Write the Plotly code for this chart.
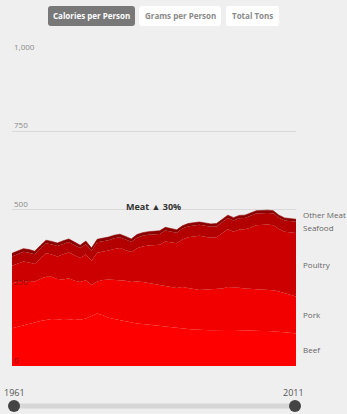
import plotly.graph_objects as go

years = list(range(1961, 2012))

beef = [121, 125, 130, 135, 139, 144, 148, 150, 149, 147,
        148, 150, 148, 152, 160, 168, 162, 154, 150, 146,
        143, 138, 136, 134, 132, 130, 128, 125, 122, 120,
        119, 118, 117, 115, 115, 114, 115, 116, 115, 115,
        114, 114, 113, 113, 112, 112, 111, 110, 108, 106, 104]
pork = [143, 143, 142, 133, 131, 134, 137, 135, 129, 129,
        132, 122, 120, 122, 99, 102, 113, 122, 125, 128,
        129, 130, 134, 134, 133, 132, 130, 130, 130, 129,
        133, 132, 129, 128, 129, 132, 131, 132, 137, 137,
        136, 134, 134, 133, 132, 131, 131, 128, 126, 122, 118]
poultry = [56, 60, 62, 63, 56, 65, 75, 71, 72, 81,
           83, 82, 77, 82, 77, 92, 90, 93, 99, 103,
           98, 96, 106, 114, 120, 123, 129, 143, 143, 143,
           152, 161, 168, 173, 169, 164, 165, 177, 185, 177,
           186, 189, 195, 204, 207, 209, 208, 200, 195, 199, 203]
seafood = [30, 30, 31, 31, 31, 32, 32, 32, 33, 33,
           33, 32, 32, 33, 32, 33, 33, 33, 34, 34,
           34, 33, 34, 34, 34, 35, 35, 35, 35, 34,
           35, 35, 35, 35, 35, 35, 35, 36, 36, 36,
           36, 36, 37, 37, 37, 37, 37, 36, 36, 36, 36]
other_meat = [10, 10, 10, 10, 10, 10, 10, 10, 10, 10,
              10, 10, 9, 10, 9, 10, 10, 10, 10, 10,
              10, 9, 10, 10, 10, 10, 10, 10, 10, 9,
              9, 9, 9, 9, 9, 9, 9, 9, 9, 9,
              9, 9, 9, 9, 9, 9, 9, 8, 8, 8, 8]

series_names = ["Beef", "Pork", "Poultry", "Seafood", "Other Meat"]
series_vals = [beef, pork, poultry, seafood, other_meat]
series_colors = ["#ff0000", "#f20000", "#cc0000", "#b30000", "#8c0000"]

y_ticks = [0, 250, 500, 750, 1000]
y_tick_text = ["0", "250", "500", "750", "1,000"]
buttons = ["Calories per Person", "Grams per Person", "Total Tons"]
change_label = "Meat \u25B2 30%"

W, H = 347, 414
L, R, T, B = 12, 296, 53, 366

def px(x):
    return (x - L) / (R - L)

def py(y):
    return (B - y) / (B - T)

fig = go.Figure()
for name, vals, col in zip(series_names, series_vals, series_colors):
    fig.add_trace(go.Scatter(
        x=years, y=vals, name=name, stackgroup="one", mode="lines",
        line=dict(width=0.6 if name == "Other Meat" else 0, color=col),
        fillcolor=col, hoverinfo="skip"))

first_total = sum(v[0] for v in series_vals)
annotations = []
for v, t in zip(y_ticks, y_tick_text):
    inside = v < first_total
    annotations.append(dict(x=0, xref="paper", y=v, yref="y", text=t,
                            showarrow=False, xanchor="left", yanchor="bottom",
                            yshift=-1,
                            font=dict(family="Open Sans", size=8,
                                      color="#8a1010" if inside else "#8a8a8a")))

# right-side labels at band middles at the last year, spread apart
cum = 0
mids = []
for vals in series_vals:
    mids.append(cum + vals[-1] / 2)
    cum += vals[-1]
for i in range(1, len(mids)):
    if mids[i] < mids[i - 1] + 42:
        mids[i] = mids[i - 1] + 42
for name, m in zip(series_names, mids):
    annotations.append(dict(x=px(301), xref="paper", y=m, yref="y", text=name,
                            showarrow=False, xanchor="left", yanchor="middle",
                            font=dict(family="Open Sans", size=8, color="#666")))

annotations.append(dict(x=px(153), xref="paper", y=511, yref="y",
                        text="<b>" + change_label + "</b>", showarrow=False,
                        xanchor="center", yanchor="middle",
                        font=dict(family="Open Sans", size=9, color="#333")))

shapes = []

def rrect(x0, y0, x1, y1, r, fill):
    # rounded rectangle from pixel coords
    rx = r / (R - L)
    ry = r / (B - T)
    X0, X1 = px(x0), px(x1)
    Y0, Y1 = py(y1), py(y0)  # Y0 bottom, Y1 top
    path = (f"M {X0+rx},{Y0} L {X1-rx},{Y0} Q {X1},{Y0} {X1},{Y0+ry} "
            f"L {X1},{Y1-ry} Q {X1},{Y1} {X1-rx},{Y1} L {X0+rx},{Y1} "
            f"Q {X0},{Y1} {X0},{Y1-ry} L {X0},{Y0+ry} Q {X0},{Y0} {X0+rx},{Y0} Z")
    return dict(type="path", xref="paper", yref="paper", path=path,
                fillcolor=fill, line=dict(width=0), layer="above")

btn_px = [(48, 135), (139, 221), (226, 279)]
for i, (label, (a, b)) in enumerate(zip(buttons, btn_px)):
    active = i == 0
    shapes.append(rrect(a, 6, b, 26, 3, "#787878" if active else "#ffffff"))
    annotations.append(dict(x=px((a + b) / 2), xref="paper", y=py(16), yref="paper",
                            text="<b>" + label + "</b>", showarrow=False,
                            xanchor="center", yanchor="middle",
                            font=dict(family="Open Sans", size=8,
                                      color="#ffffff" if active else "#8a8a8a")))

# time slider
shapes.append(dict(type="line", xref="paper", yref="paper",
                   x0=px(14), x1=px(295), y0=py(406), y1=py(406),
                   line=dict(color="#d6d6d6", width=5)))
for xx in (14, 295):
    shapes.append(dict(type="circle", xref="paper", yref="paper",
                       xsizemode="pixel", ysizemode="pixel",
                       xanchor=px(xx), yanchor=py(406),
                       x0=-6, x1=6, y0=-6, y1=6,
                       fillcolor="#444444", line=dict(width=0)))
for yr, xx in ((years[0], 14), (years[-1], 293)):
    annotations.append(dict(x=px(xx), xref="paper", y=py(392), yref="paper",
                            text=str(yr), showarrow=False, xanchor="center",
                            yanchor="middle",
                            font=dict(family="Open Sans", size=9, color="#555")))

fig.update_layout(
    width=W, height=H,
    margin=dict(l=L, r=W - R, t=T, b=H - B, pad=0),
    paper_bgcolor="#efefef", plot_bgcolor="#efefef",
    showlegend=False,
    xaxis=dict(range=[years[0], years[-1]], showgrid=False, showticklabels=False,
               zeroline=False, showline=False, fixedrange=True),
    yaxis=dict(range=[0, 1000], tickvals=y_ticks, showticklabels=False,
               showgrid=True, gridcolor="#dadada", gridwidth=1,
               zeroline=False, showline=False, fixedrange=True),
    annotations=annotations, shapes=shapes,
)

fig.write_html("out.html", config={"displayModeBar": False})
